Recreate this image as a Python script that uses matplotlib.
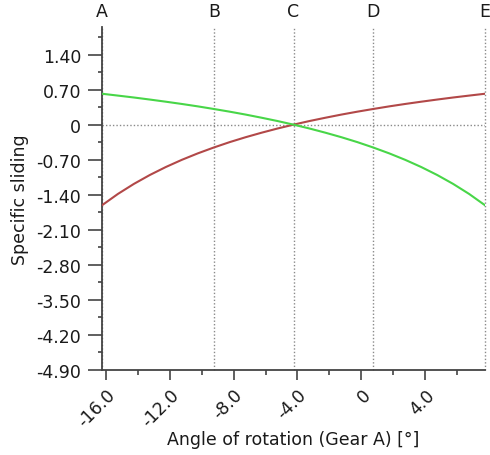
import numpy as np
import matplotlib
matplotlib.use("Agg")
import matplotlib.pyplot as plt
from matplotlib.ticker import MultipleLocator

# angle of rotation of gear A [deg]
angle = [-16.25, -15.25, -14.25, -13.25, -12.25, -11.25, -10.25, -9.25, -8.25,
         -7.25, -6.25, -5.25, -4.25, -3.25, -2.25, -1.25, -0.25, 0.75, 1.75,
         2.75, 3.75, 4.75, 5.75, 6.75, 7.75]

# specific sliding, gear A (red) and gear B (green)
slide_a = [-1.610, -1.383, -1.183, -1.005, -0.846, -0.703, -0.574, -0.457, -0.349,
           -0.251, -0.161, -0.077, 0.0, 0.072, 0.138, 0.201, 0.259, 0.313, 0.365,
           0.413, 0.458, 0.501, 0.542, 0.580, 0.617]
slide_b = [0.617, 0.580, 0.542, 0.501, 0.458, 0.413, 0.365, 0.313, 0.259,
           0.201, 0.138, 0.072, 0.0, -0.077, -0.161, -0.251, -0.349, -0.457, -0.574,
           -0.703, -0.846, -1.005, -1.183, -1.383, -1.610]

# contact points on the path of contact
point_names = ["A", "B", "C", "D", "E"]
point_angle = [-16.25, -9.22, -4.25, 0.72, 7.75]

xticks = [-16, -12, -8, -4, 0, 4]
xtick_labels = ["-16.0", "-12.0", "-8.0", "-4.0", "0", "4.0"]
yticks = [1.40, 0.70, 0, -0.70, -1.40, -2.10, -2.80, -3.50, -4.20, -4.90]
ytick_labels = ["1.40", "0.70", "0", "-0.70", "-1.40", "-2.10", "-2.80", "-3.50", "-4.20", "-4.90"]

fs = 12.5
txt = "#1a1a1a"

fig = plt.figure(figsize=(4.9, 4.56), dpi=100)
ax = fig.add_axes([0.2082, 0.1864, 0.7816, 0.7522])

dot = dict(color="#8a8a8a", linestyle=(0, (1, 1.5)), linewidth=1.0)
for name, xa in zip(point_names, point_angle):
    ax.axvline(xa, **dot, zorder=1, clip_on=False)
    ax.text(xa, 1.02, name, transform=ax.get_xaxis_transform(), ha="center",
            va="bottom", fontsize=fs, color=txt)
ax.axhline(0, **dot, zorder=1)

ax.plot(angle, slide_a, color="#b24848", linewidth=1.5, zorder=3)
ax.plot(angle, slide_b, color="#48d648", linewidth=1.5, zorder=3)

ax.set_xlim(-16.25, 7.75)
ax.set_ylim(-4.9, 1.95)

ax.spines["top"].set_visible(False)
ax.spines["right"].set_visible(False)
for s in ["left", "bottom"]:
    ax.spines[s].set_color("#444444")
    ax.spines[s].set_linewidth(1.3)

ax.set_xticks(xticks)
ax.set_xticklabels(xtick_labels, rotation=45, ha="right", rotation_mode="anchor")
ax.xaxis.set_minor_locator(MultipleLocator(2))
ax.set_yticks(yticks)
ax.set_yticklabels(ytick_labels)
ax.yaxis.set_minor_locator(MultipleLocator(0.35))

ax.tick_params(axis="x", which="major", length=7, width=1.2, color="#444444",
               labelsize=fs, labelcolor=txt, pad=4)
ax.tick_params(axis="x", which="minor", length=3.5, width=1.2, color="#444444")
ax.tick_params(axis="y", which="major", length=10, width=1.2, color="#444444",
               labelsize=fs, labelcolor=txt, pad=5)
ax.tick_params(axis="y", which="minor", length=3, width=1.2, color="#444444")

ax.set_xlabel("Angle of rotation (Gear A) [°]", fontsize=fs, color=txt, labelpad=0)
ax.set_ylabel("Specific sliding", fontsize=fs, color=txt, labelpad=5)

fig.savefig("out.png", dpi=100)
